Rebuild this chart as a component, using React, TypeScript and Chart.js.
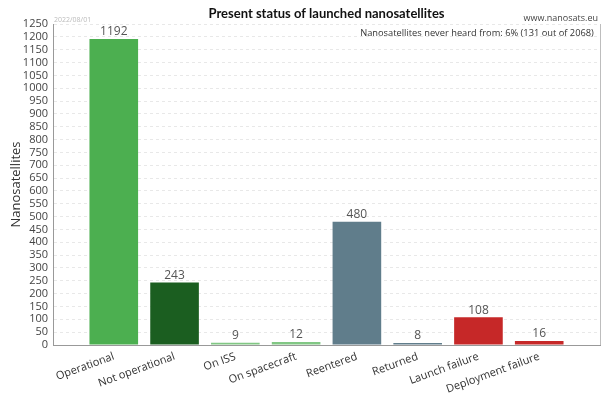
import React, { useEffect, useRef } from "react";
import { Chart, registerables } from "chart.js";

Chart.register(...registerables);

const categories = [
  "Operational",
  "Not operational",
  "On ISS",
  "On spacecraft",
  "Reentered",
  "Returned",
  "Launch failure",
  "Deployment failure",
];
const counts = [1192, 243, 9, 12, 480, 8, 108, 16];
const barColors = [
  "#4caf50",
  "#1b5e20",
  "#81c784",
  "#81c784",
  "#607d8b",
  "#607d8b",
  "#c62828",
  "#c62828",
];
const titleText = "Present status of launched nanosatellites";
const siteText = "www.nanosats.eu";
const dateText = "2022/08/01";
const noteText = "Nanosatellites never heard from: 6% (131 out of 2068)";
const yAxisTitle = "Nanosatellites";
const yMax = 1250;
const yStep = 50;

const FONT = "'Open Sans', 'DejaVu Sans', sans-serif";
const TITLE_FONT = "Lato, 'Open Sans', sans-serif";

export default function App() {
  const ref = useRef<HTMLCanvasElement | null>(null);

  useEffect(() => {
    if (!ref.current) return;
    const labels = ["", ...categories, ""];
    const data: (number | null)[] = [null, ...counts, null];
    const colors = ["#fff", ...barColors, "#fff"];

    const overlay = {
      id: "overlay",
      afterDatasetsDraw(chart: any) {
        const ctx = chart.ctx;
        const area = chart.chartArea;
        ctx.save();
        // right border
        ctx.strokeStyle = "#bdbdbd";
        ctx.lineWidth = 1;
        ctx.beginPath();
        ctx.moveTo(Math.round(area.right) + 0.5, area.top);
        ctx.lineTo(Math.round(area.right) + 0.5, area.bottom);
        ctx.stroke();
        // value labels
        const meta = chart.getDatasetMeta(0);
        ctx.fillStyle = "#555";
        ctx.font = `12px ${FONT}`;
        ctx.textAlign = "center";
        ctx.textBaseline = "bottom";
        meta.data.forEach((el: any, i: number) => {
          const v = data[i];
          if (v == null) return;
          ctx.fillText(String(v), el.x, el.y - 1);
        });
        // title
        ctx.fillStyle = "#111";
        ctx.font = `bold 13px ${TITLE_FONT}`;
        ctx.textBaseline = "middle";
        ctx.fillText(titleText, (area.left + area.right) / 2, 14);
        // site
        ctx.fillStyle = "#444";
        ctx.font = `9px ${FONT}`;
        ctx.textAlign = "right";
        ctx.fillText(siteText, 598, 18);
        // note
        ctx.font = `9.3px ${FONT}`;
        ctx.fillStyle = "#333";
        ctx.textAlign = "center";
        ctx.fillText(noteText, 477, 33);
        // date
        ctx.font = `7px ${FONT}`;
        ctx.fillStyle = "#bbb";
        ctx.textAlign = "left";
        ctx.fillText(dateText, area.left + 1, 20);
        ctx.restore();
      },
    };

    const chart = new Chart(ref.current, {
      type: "bar",
      data: {
        labels,
        datasets: [
          {
            data,
            backgroundColor: colors,
            barPercentage: 0.8,
            categoryPercentage: 1,
          },
        ],
      },
      options: {
        animation: false,
        responsive: true,
        maintainAspectRatio: false,
        layout: { padding: { left: 0, right: 3, top: 24, bottom: 0 } },
        plugins: {
          legend: { display: false },
          title: { display: false },
          tooltip: { enabled: false },
        },
        scales: {
          x: {
            offset: false,
            grid: { display: false, drawTicks: false },
            border: { color: "#999" },
            afterFit(scale: any) {
              scale.height = 49;
              scale.paddingRight = 0;
              scale.paddingLeft = 0;
            },
            ticks: {
              autoSkip: false,
              minRotation: 20,
              maxRotation: 20,
              padding: 5,
              color: "#333",
              font: { family: FONT, size: 11 },
            },
          },
          y: {
            min: 0,
            max: yMax,
            afterFit(scale: any) {
              scale.width = 53;
            },
            border: { color: "#999", dash: [3, 3] },
            grid: {
              color: "#e8e8e8",
              drawTicks: false,
            },
            ticks: {
              stepSize: yStep,
              autoSkip: false,
              padding: 5,
              color: "#444",
              font: { family: FONT, size: 11 },
              callback: (v: any) => String(v),
            },
            title: {
              display: true,
              text: yAxisTitle,
              color: "#333",
              font: { family: FONT, size: 13 },
              padding: { top: 8, bottom: 0 },
            },
          },
        },
      },
      plugins: [overlay],
    });
    return () => chart.destroy();
  }, []);

  return (
    <div
      style={{
        position: "fixed",
        left: 0,
        top: 0,
        width: 603,
        height: 394,
        background: "#fff",
      }}
    >
      <canvas ref={ref} />
    </div>
  );
}
